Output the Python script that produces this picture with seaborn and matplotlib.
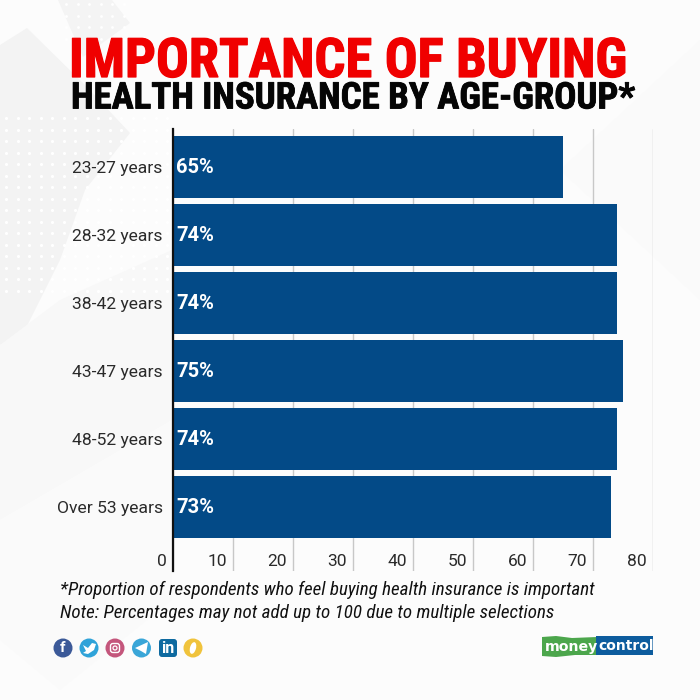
import numpy as np
import pandas as pd
import matplotlib.pyplot as plt
import matplotlib.patheffects as pe
import seaborn as sns
from matplotlib.patches import Circle, Ellipse, Polygon, Rectangle, FancyBboxPatch
from matplotlib.transforms import ScaledTranslation

# chart data
age_groups = ["23-27 years", "28-32 years", "38-42 years",
              "43-47 years", "48-52 years", "Over 53 years"]
shares = [65, 74, 74, 75, 74, 73]
x_ticks = [0, 10, 20, 30, 40, 50, 60, 70, 80]

# page text
title_top = "IMPORTANCE OF BUYING"
title_bottom = "HEALTH INSURANCE BY AGE-GROUP*"
note_one = "*Proportion of respondents who feel buying health insurance is important"
note_two = "Note: Percentages may not add up to 100 due to multiple selections"

BAR = "#034a87"
W, H = 700, 700

sns.set_theme(style="white")
plt.rcParams["font.family"] = ["Roboto", "DejaVu Sans"]

df = pd.DataFrame({"group": age_groups, "share": shares})

fig = plt.figure(figsize=(7, 7), dpi=100, facecolor="#fcfcfc")


def fx(px):
    return px / W


def fy(py):
    return 1 - py / H


# background shapes and dots, page pixels
bg = fig.add_axes([0, 0, 1, 1], zorder=0)
bg.set_xlim(0, W)
bg.set_ylim(H, 0)
bg.axis("off")
bg.add_patch(Polygon([(0, 45), (27, 28), (85, 85), (130, 133), (85, 190), (60, 260), (25, 330), (0, 345)],
                     fc="#f3f3f3", ec="none"))
bg.add_patch(Polygon([(58, 0), (112, 0), (130, 23), (83, 57)], fc="#f4f4f4", ec="none"))
bg.add_patch(Polygon([(0, 345), (60, 300), (172, 250), (172, 420), (0, 520)], fc="#f8f8f8", ec="none"))
bg.add_patch(Polygon([(0, 520), (172, 420), (172, 600), (60, 690), (0, 640)], fc="#fafafa", ec="none"))
bg.add_patch(Polygon([(560, 170), (700, 40), (700, 300)], fc="#fafafa", ec="none"))
dot_x, dot_y = np.meshgrid(np.arange(6, 170, 11.5), np.arange(118, 300, 11.5))
bg.scatter(dot_x, dot_y, s=5, c="white", linewidths=0)
dot_x, dot_y = np.meshgrid(np.arange(66, 130, 11.5), np.arange(4, 40, 11.5))
bg.scatter(dot_x, dot_y, s=4, c="white", linewidths=0)

# bar chart
ax = fig.add_axes([fx(172.5), fy(571), 480 / W, 442 / H], zorder=2)
ax.patch.set_alpha(0)
sns.barplot(data=df, x="share", y="group", color=BAR, saturation=1, width=0.9, linewidth=0, ax=ax)
ax.set_xlim(0, 80)
ax.set_ylim(5.94, -0.56)
ax.set_xlabel("")
ax.set_ylabel("")
ax.set_xticks(x_ticks)
ax.grid(axis="x", color="#c8c8c8", linewidth=1)
ax.set_axisbelow(True)
for side in ["top", "right", "bottom"]:
    ax.spines[side].set_visible(False)
ax.spines["left"].set_color("#111111")
ax.spines["left"].set_linewidth(1.6)
ax.tick_params(axis="y", length=0, pad=7, labelsize=12.6, labelcolor="#2a2a2a")
ax.tick_params(axis="x", length=0, pad=-12, labelsize=12.5, labelcolor="#2a2a2a")
shift = ScaledTranslation(-4 / 72, 0, fig.dpi_scale_trans)
for lab in ax.get_xticklabels():
    lab.set_horizontalalignment("right")
    lab.set_transform(lab.get_transform() + shift)

for i, v in enumerate(shares):
    ax.annotate(f"{v}%", (0, i), xytext=(2.5, 0), textcoords="offset points",
                ha="left", va="center", color="white", fontsize=14.5, fontweight="bold")

# titles
heavy_red = [pe.withStroke(linewidth=0.9, foreground="#f00000")]
heavy_black = [pe.withStroke(linewidth=0.6, foreground="#050505")]
fig.text(fx(69), fy(77), title_top, family="Roboto Condensed", fontweight="bold",
         color="#f00000", fontsize=39.2, va="baseline", path_effects=heavy_red)
fig.text(fx(71), fy(108.5), title_bottom, family="Roboto Condensed", fontweight="bold",
         color="#050505", fontsize=26.5, va="baseline", path_effects=heavy_black)

# notes
fig.text(fx(60), fy(595), note_one, family="Roboto Condensed", style="italic",
         fontsize=13.65, color="#111111")
fig.text(fx(60), fy(618), note_two, family="Roboto Condensed", style="italic",
         fontsize=13.65, color="#111111")

# social icons
icon_colors = ["#3b5998", "#2fa3d9", "#c4567c", "#3aa6d8", "#0e6aa0", "#f0c33c"]
icon_x = [63, 89, 115, 141.5, 168, 193]
for cx, col in zip(icon_x, icon_colors):
    if col == "#0e6aa0":
        bg.add_patch(FancyBboxPatch((cx - 8, 640), 16, 16, boxstyle="round,pad=1,rounding_size=3",
                                    fc=col, ec="none"))
    else:
        bg.add_patch(Circle((cx, 648), 9.5, fc=col, ec="none"))
bg.text(63, 648, "f", ha="center", va="center", color="white", fontsize=11, fontweight="bold")
bg.add_patch(Polygon([(83, 645), (88, 648), (92, 643), (96, 644), (94, 650), (88, 654), (83, 653),
                      (86, 651)], fc="white", ec="none"))
bg.add_patch(FancyBboxPatch((110.5, 643.5), 9, 9, boxstyle="round,pad=0,rounding_size=2.5",
                            fc="none", ec="white", lw=1))
bg.add_patch(Circle((115, 648), 2, fc="none", ec="white", lw=0.9))
bg.add_patch(Polygon([(135, 648), (148, 642), (146, 654), (141, 651)], fc="white", ec="none"))
bg.text(168, 648.5, "in", ha="center", va="center", color="white", fontsize=11.5, fontweight="bold")
bg.add_patch(Ellipse((193, 648), 6, 12, angle=15, fc="white", ec="none"))

# logo
bg.add_patch(Polygon([(542, 637), (556, 636), (572, 638), (597, 637), (597, 655), (575, 655),
                      (556, 657), (542, 656)], fc="#4ca64c", ec="none"))
bg.add_patch(Rectangle((596, 636), 57, 19, fc="#0d5c9e", ec="none"))
bg.text(545, 646.5, "money", color="white", fontsize=10.2, fontweight="bold", va="center",
        family="DejaVu Sans")
bg.text(598, 646.5, "control", color="white", fontsize=10, fontweight="bold", va="center",
        family="DejaVu Sans")

fig.savefig("out.png", dpi=100, facecolor=fig.get_facecolor())
